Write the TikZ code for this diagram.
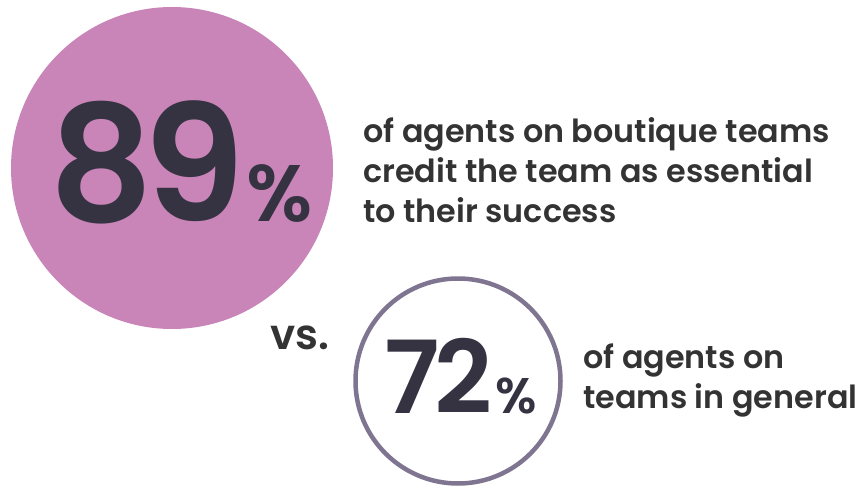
\documentclass[tikz,border=0pt]{standalone}
\usepackage{fontspec}
\setmainfont{Poppins}
\newfontfamily\numfont{Poppins SemiBold}
\newfontfamily\txtfont{Poppins SemiBold}
\definecolor{pinkfill}{HTML}{C985B8}
\definecolor{ringcol}{HTML}{7F7591}
\definecolor{numcol}{HTML}{353342}
\definecolor{txtcol}{HTML}{333333}

\tikzset{
    pct/.style={anchor=base west, inner sep=0, text=numcol},
    label/.style={anchor=base west, inner sep=0, align=left, text=txtcol}
}

\begin{document}
\begin{tikzpicture}[x=1pt,y=-1pt]
    \useasboundingbox (0,0) rectangle (861,486);

    % Big filled circle (89%)
    \node[circle, fill=pinkfill, inner sep=0, minimum size=322pt] (big) at (172,168) {};

    % Outlined circle (72%)
    \node[circle, draw=ringcol, line width=4.5pt, inner sep=0, minimum size=205pt] (small) at (458,381) {};

    % Percentages
    \node[pct] (bignum) at (49,222)
        {\numfont\fontsize{162}{162}\selectfont 8\kern-10pt9\kern2pt\fontsize{80}{80}\selectfont\%};
    \node[pct] (smallnum) at (384,413)
        {\numfont\fontsize{101}{101}\selectfont 7\kern-5pt2\kern3pt\fontsize{50}{50}\selectfont\%};

    % Labels (base = last line)
    \node[label, font={\txtfont\fontsize{31.8}{40.5}\selectfont}] (bigtxt) at (363,223)
        {of agents on boutique teams\\credit the team as essential\\to their success};
    \node[label, font={\txtfont\fontsize{31.8}{40}\selectfont}] (smalltxt) at (583,408)
        {of agents on\\teams in general};
    \node[label, font={\txtfont\fontsize{42}{42}\selectfont}] (vs) at (270,349) {vs.};
\end{tikzpicture}
\end{document}
